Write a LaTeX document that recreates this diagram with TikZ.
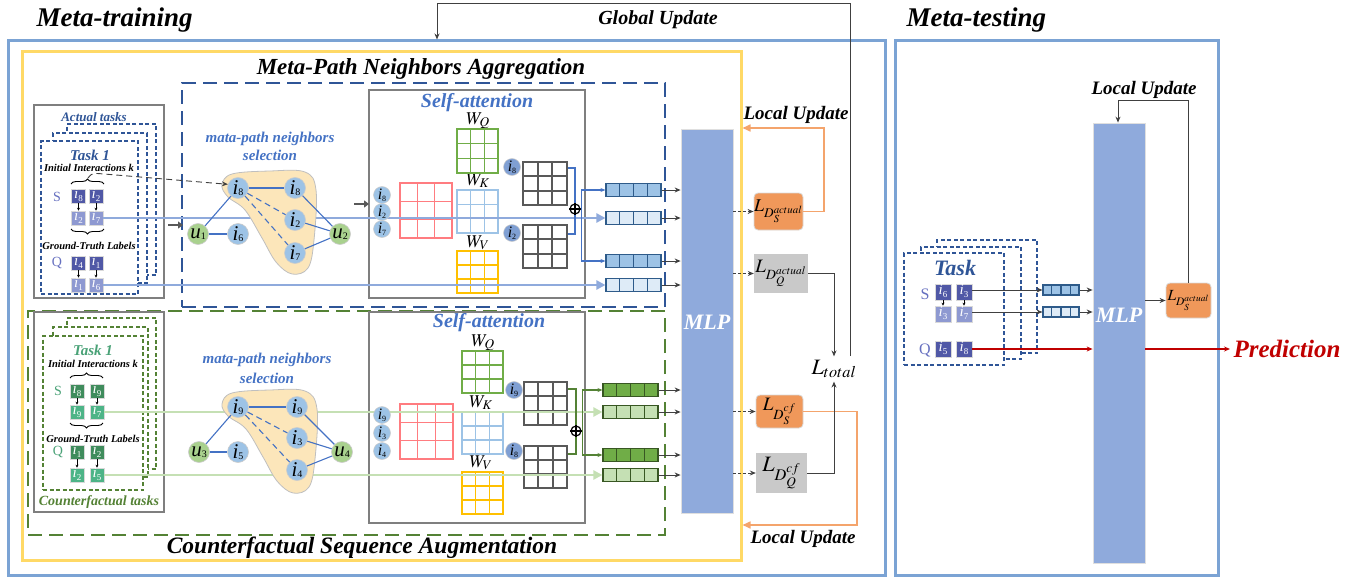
\documentclass[tikz,border=0pt]{standalone}
\usepackage{mathptmx}
\usepackage{fontspec}
\setmainfont{Liberation Serif}
\usetikzlibrary{arrows.meta,decorations.pathreplacing,calc,fit}
\definecolor{obl}{HTML}{7BA3D4}
\definecolor{ybx}{HTML}{FFD966}
\definecolor{dbl}{HTML}{2F5597}
\definecolor{dgr}{HTML}{548235}
\definecolor{gbx}{HTML}{7F7F7F}
\definecolor{nbl}{HTML}{9DC3E6}
\definecolor{ngr}{HTML}{A9D18E}
\definecolor{blobc}{HTML}{FCE6BA}
\definecolor{edg}{HTML}{4472C4}
\definecolor{pdk}{HTML}{5058A6}
\definecolor{plt}{HTML}{8E99D1}
\definecolor{gdk}{HTML}{3F8C5C}
\definecolor{glt}{HTML}{4DB487}
\definecolor{lbl}{HTML}{8FAADC}
\definecolor{lgr}{HTML}{C5E0B4}
\definecolor{vdk}{HTML}{9DC3E6}
\definecolor{vlt}{HTML}{DEEBF7}
\definecolor{vbd}{HTML}{2E5B8A}
\definecolor{gvdk}{HTML}{70AD47}
\definecolor{gvlt}{HTML}{C5E0B4}
\definecolor{gvbd}{HTML}{385723}
\definecolor{mlpc}{HTML}{8FAADC}
\definecolor{orf}{HTML}{F0985A}
\definecolor{orl}{HTML}{F4A46C}
\definecolor{gyf}{HTML}{C9C9C9}
\definecolor{mq}{HTML}{70AD47}
\definecolor{mk}{HTML}{9DC3E6}
\definecolor{mv}{HTML}{FFC000}
\definecolor{mp}{HTML}{FF7C80}
\definecolor{mdk}{HTML}{595959}
\definecolor{red1}{HTML}{C00000}
\definecolor{arr}{HTML}{404040}
\definecolor{sqc}{HTML}{6670C0}
\definecolor{tgr}{HTML}{4AA277}
\definecolor{cdk}{HTML}{7F9FD3}

\newcommand\fsz[1]{\fontsize{#1}{#1}\selectfont}
\newcommand\bigi[2]{{\fsz{21}\textit{#1}}{\fsz{10}\raisebox{-1.5pt}{#2}}}
\newcommand\midi[2]{{\fsz{16}\textit{#1}}{\fsz{8}\raisebox{-1.5pt}{#2}}}
\newcommand\sqi[1]{{\fsz{15}\textit{i}}{\fsz{9}\raisebox{-2.5pt}{#1}}}
\newcommand\mkmat[7]{%
  \node[fit={(#2,#3)(#4,#5)}, inner sep=0pt, draw=#6, line width=#7, fill=white] (#1) {};
  \foreach \mfr in {0.3333,0.6667}{%
    \draw[#6, line width=#7] ({#2+(#4-#2)*\mfr},#3) -- ({#2+(#4-#2)*\mfr},#5);
    \draw[#6, line width=#7] (#2,{#3+(#5-#3)*\mfr}) -- (#4,{#3+(#5-#3)*\mfr});
  }}
\newcommand\mkvec[7]{%
  \node[minimum width=#4, minimum height=#5, inner sep=0pt, fill=#6, draw=#7, line width=1.1pt] (#1) at (#2,#3) {};
  \foreach \mk in {1,2,3}{\draw[#7, line width=1.1pt] ($(#1.north west)!\mk/4!(#1.north east)$) -- ($(#1.south west)!\mk/4!(#1.south east)$);}}

\tikzset{
  bnode/.style={circle, fill=nbl, draw=gray!40, line width=0.6pt, minimum size=21pt, inner sep=0pt},
  gnode/.style={bnode, fill=ngr},
  snode/.style={circle, fill=nbl, draw=gray!40, line width=0.5pt, minimum size=17pt, inner sep=0pt},
  dnode/.style={snode, fill=cdk},
  gedge/.style={draw=edg, line width=1.1pt},
  gdash/.style={gedge, dash pattern=on 6pt off 4pt},
  sqd/.style={rectangle, minimum size=14pt, inner sep=0pt, fill=pdk, draw=gray!30, text=white, line width=0.6pt, text height=7pt, text depth=2pt},
  sql/.style={sqd, fill=plt},
  sqgd/.style={sqd, fill=gdk},
  sqgl/.style={sqd, fill=glt},
  stackb/.style={inner sep=0pt, draw=dbl, fill=white, line width=1.1pt, dash pattern=on 4pt off 2.5pt},
  stackg/.style={stackb, draw=dgr},
  graybox/.style={inner sep=0pt, draw=gbx, line width=1.8pt},
  bline/.style={draw=lbl, line width=2.5pt, -{Triangle[length=9pt,width=9pt]}},
  gline/.style={draw=lgr, line width=2.5pt, -{Triangle[length=9pt,width=9pt]}},
  conn/.style={draw=edg, line width=1.1pt},
  connarr/.style={conn, -{Stealth[length=5pt,width=4pt]}},
  gconn/.style={draw=dgr, line width=1.1pt},
  gconnarr/.style={gconn, -{Stealth[length=5pt,width=4pt]}},
  garr/.style={draw=arr, line width=1pt, -{Stealth[length=6pt,width=5pt]}},
  darr/.style={draw=mdk, line width=2.5pt, -{Triangle[length=5pt,width=7pt]}},
  smarr/.style={draw=black, line width=0.8pt, -{Stealth[length=3pt,width=3pt]}},
  oline/.style={draw=orl, line width=1.6pt, -{Triangle[length=8pt,width=7pt]}},
  rarr/.style={draw=red1, line width=1.1pt, -{Stealth[length=6pt,width=5pt]}},
  lossbox/.style={inner sep=0pt, rounded corners=4pt, draw=gray!30, line width=0.8pt, fill=orf},
  lossg/.style={inner sep=0pt, draw=none, fill=gyf},
  brc/.style={decorate, decoration={brace, amplitude=5pt}, line width=0.9pt},
}

\begin{document}
\begin{tikzpicture}[x=1pt,y=-1pt]
\useasboundingbox (0,0) rectangle (1360,578);

% ---------- titles and outer boxes
\node[font=\fsz{27}\bfseries\itshape, anchor=west] (ttrain) at (33,20) {Meta-training};
\node[font=\fsz{27}\bfseries\itshape, anchor=west] (ttest) at (903,20) {Meta-testing};
\node[font=\fsz{20}\bfseries\itshape] (gutext) at (658,20) {Global Update};

\node[fit={(8,41)(885,575)}, inner sep=0pt, draw=obl, line width=3pt] (trainbox) {};
\node[fit={(895,41)(1218,575)}, inner sep=0pt, draw=obl, line width=3pt] (testbox) {};
\node[fit={(22,52)(741,560)}, inner sep=0pt, draw=ybx, line width=3pt] (ybox) {};
\node[fit={(182,83)(665,307)}, inner sep=0pt, draw=dbl, line width=2.5pt, dash pattern=on 14pt off 7pt] (aggbox) {};
\node[fit={(28,311)(665,535)}, inner sep=0pt, draw=dgr, line width=2.5pt, dash pattern=on 14pt off 7pt] (cfbox) {};
\node[font=\fsz{23}\bfseries\itshape] (aggt) at (421,69) {Meta-Path Neighbors Aggregation};
\node[font=\fsz{23.5}\bfseries\itshape] (cft) at (362,548) {Counterfactual Sequence Augmentation};

% ---------- actual tasks
\node[fit={(34,105)(164,298)}, graybox] (actbox) {};
\node[font=\fsz{13}\bfseries\itshape, text=dbl] (actt) at (94,117) {Actual tasks};
\node[fit={(67,124)(156,275)}, stackb] (ab3) {};
\node[fit={(53,133)(147,283)}, stackb] (ab2) {};
\node[fit={(41,141)(138,294)}, stackb] (ab1) {};
\node[font=\fsz{15}\bfseries\itshape, text=dbl] (task1) at (90,155) {Task 1};
\node[font=\fsz{10.5}\bfseries\itshape] (ii1) at (89,168) {Initial Interactions k};
\node[text=sqc, font=\fsz{14}] (sl1) at (57,197) {S};
\node[sqd] (s1a) at (78.5,196) {\sqi{8}};
\node[sqd] (s1b) at (96,196) {\sqi{2}};
\node[sql] (s1c) at (78.5,218) {\sqi{2}};
\node[sql] (s1d) at (96,218) {\sqi{7}};
\draw[smarr] (s1a.south) -- (s1c.north);
\draw[smarr] (s1b.south) -- (s1d.north);
\draw[brc] (71,184) -- (104,184);
\draw[brc] (104,229) -- (71,229);
\node[font=\fsz{10.5}\bfseries\itshape] (gt1) at (89,246) {Ground-Truth Labels};
\node[text=sqc, font=\fsz{14}] (ql1) at (57,263) {Q};
\node[sqd] (q1a) at (78.5,263) {\sqi{4}};
\node[sqd] (q1b) at (96,263) {\sqi{1}};
\node[sql] (q1c) at (78.5,285) {\sqi{1}};
\node[sql] (q1d) at (96,285) {\sqi{6}};
\draw[smarr] (q1a.south) -- (q1c.north);
\draw[smarr] (q1b.south) -- (q1d.north);

% ---------- counterfactual tasks
\node[fit={(34,312)(164,512)}, graybox] (cfbox2) {};
\node[fit={(67,318)(156,469)}, stackg] (cb3) {};
\node[fit={(53,327)(148,477)}, stackg] (cb2) {};
\node[fit={(43,336)(143,490)}, stackg] (cb1) {};
\node[font=\fsz{15}\bfseries\itshape, text=tgr] (task1g) at (93,350) {Task 1};
\node[font=\fsz{10.5}\bfseries\itshape] (ii2) at (93,364) {Initial Interactions k};
\node[text=tgr, font=\fsz{14}] (sl2) at (58,391) {S};
\node[sqgd] (g1) at (77,391) {\sqi{8}};
\node[sqgd] (g2) at (97,391) {\sqi{9}};
\node[sqgl] (g3) at (77,412) {\sqi{9}};
\node[sqgl] (g4) at (97,412) {\sqi{7}};
\draw[smarr] (g1.south) -- (g3.north);
\draw[smarr] (g2.south) -- (g4.north);
\draw[brc] (70,378) -- (103,378);
\draw[brc] (103,423) -- (70,423);
\node[font=\fsz{10.5}\bfseries\itshape] (gt2) at (93,439) {Ground-Truth Labels};
\node[text=tgr, font=\fsz{14}] (ql2) at (58,452) {Q};
\node[sqgd] (g5) at (77,452) {\sqi{1}};
\node[sqgd] (g6) at (97,452) {\sqi{2}};
\node[sqgl] (g7) at (77,475) {\sqi{2}};
\node[sqgl] (g8) at (97,475) {\sqi{5}};
\draw[smarr] (g5.south) -- (g7.north);
\draw[smarr] (g6.south) -- (g8.north);
\node[font=\fsz{14}\bfseries\itshape, text=dgr] (cftt) at (99,502) {Counterfactual tasks};

% ---------- self-attention boxes and matrices
\node[fit={(369,90)(585,298)}, graybox] (sa1) {};
\node[font=\fsz{20}\bfseries\itshape, text=edg] (sat1) at (477,103) {Self-attention};
\node[font=\fsz{18}, anchor=base] (wq1) at (478,124) {$W_Q$};
\node[font=\fsz{18}, anchor=base] (wk1) at (478,185) {$W_K$};
\node[font=\fsz{18}, anchor=base] (wv1) at (478,247) {$W_V$};
\mkmat{mq1}{457}{129}{498}{173}{mq}{1.6pt}
\mkmat{mk1}{457}{190}{498}{233}{mk}{1.6pt}
\mkmat{mv1}{457}{251}{498}{293}{mv}{1.6pt}
\mkmat{mp1}{400}{183}{452}{238}{mp}{1.6pt}
\mkmat{dk1}{523}{162}{567}{205}{mdk}{2pt}
\mkmat{dk2}{523}{225}{567}{268}{mdk}{2pt}

\node[fit={(369,312)(585,523)}, graybox] (sa2) {};
\node[font=\fsz{20}\bfseries\itshape, text=edg] (sat2) at (489,323) {Self-attention};
\node[font=\fsz{18}, anchor=base] (wq2) at (483,346) {$W_Q$};
\node[font=\fsz{18}, anchor=base] (wk2) at (481,407) {$W_K$};
\node[font=\fsz{18}, anchor=base] (wv2) at (481,467) {$W_V$};
\mkmat{mq2}{462}{351}{503}{393}{mq}{1.6pt}
\mkmat{mk2}{462}{412}{503}{454}{mk}{1.6pt}
\mkmat{mv2}{462}{472}{503}{514}{mv}{1.6pt}
\mkmat{mp2}{400}{404}{453}{459}{mp}{1.6pt}
\mkmat{dk3}{524}{382}{567}{425}{mdk}{2pt}
\mkmat{dk4}{524}{446}{567}{488}{mdk}{2pt}

% ---------- vectors
\mkvec{v1}{633.5}{190}{55}{13}{vdk}{vbd}
\mkvec{v2}{633.5}{218}{55}{13}{vlt}{vbd}
\mkvec{v3}{633.5}{261}{55}{13}{vdk}{vbd}
\mkvec{v4}{633.5}{285}{55}{13}{vlt}{vbd}
\mkvec{w1}{630.5}{390}{55}{13}{gvdk}{gvbd}
\mkvec{w2}{630.5}{412}{55}{13}{gvlt}{gvbd}
\mkvec{w3}{630.5}{455}{55}{13}{gvdk}{gvbd}
\mkvec{w4}{630.5}{475}{55}{13}{gvlt}{gvbd}

% ---------- long input lines (under the blobs)
\draw[bline] (s1d.east) -- (v2.west);
\draw[bline] (q1d.east) -- (v4.west);
\draw[gline] (g4.east) -- (w2.west);
\draw[gline] (g8.east) -- (w4.west);

% ---------- meta-path neighbor graphs
\node[font=\fontsize{15}{18}\selectfont\bfseries\itshape, text=edg, align=center] (mps1) at (270,146) {mata-path neighbors\\selection};
\node[font=\fontsize{15}{20}\selectfont\bfseries\itshape, text=edg, align=center] (mps2) at (267,368) {mata-path neighbors\\selection};
\draw[fill=blobc, draw=gray!50, line width=0.8pt] plot[smooth cycle, tension=0.6] coordinates {(222,185) (232,174) (270,171) (305,172) (316,190) (314,240) (308,268) (292,274) (276,262) (262,238) (245,210) (228,197)};
\draw[fill=blobc, draw=gray!50, line width=0.8pt] plot[smooth cycle, tension=0.6] coordinates {(222,404) (232,393) (270,390) (305,391) (317,409) (315,459) (309,487) (293,493) (277,481) (263,457) (246,429) (228,416)};

\node[bnode] (a8) at (238,188) {\bigi{i}{8}};
\node[bnode] (b8) at (295,188) {\bigi{i}{8}};
\node[bnode] (b2) at (295,220) {\bigi{i}{2}};
\node[bnode] (b7) at (295,253) {\bigi{i}{7}};
\node[gnode] (u1) at (198,234) {\bigi{u}{1}};
\node[bnode] (a6) at (238,234) {\bigi{i}{6}};
\node[gnode] (u2) at (340,234) {\bigi{u}{2}};
\draw[gedge] (u1) -- (a8);
\draw[gedge] (u1) -- (a6);
\draw[gedge] (a8) -- (b8);
\draw[gdash] (a8) -- (b2);
\draw[gdash] (a8) -- (b7);
\draw[gedge] (b8) -- (u2);
\draw[gedge] (b2) -- (u2);
\draw[gedge] (b7) -- (u2);

\node[bnode] (c9a) at (238,407) {\bigi{i}{9}};
\node[bnode] (c9b) at (297,407) {\bigi{i}{9}};
\node[bnode] (c3) at (297,438) {\bigi{i}{3}};
\node[bnode] (c4) at (297,470) {\bigi{i}{4}};
\node[gnode] (u3) at (199,452) {\bigi{u}{3}};
\node[bnode] (c5) at (238,452) {\bigi{i}{5}};
\node[gnode] (u4) at (342,452) {\bigi{u}{4}};
\draw[gedge] (u3) -- (c9a);
\draw[gedge] (u3) -- (c5);
\draw[gedge] (c9a) -- (c9b);
\draw[gdash] (c9a) -- (c3);
\draw[gdash] (c9a) -- (c4);
\draw[gedge] (c9b) -- (u4);
\draw[gedge] (c3) -- (u4);
\draw[gedge] (c4) -- (u4);

\coordinate (brtip) at (88,178);
\draw[draw=arr, line width=0.9pt, dash pattern=on 6pt off 4pt, -{Stealth[length=6pt,width=5pt]}] (brtip) .. controls (92,173) .. (104,174) -- (a8.160);

\coordinate (da1) at (168,225);
\coordinate (da2) at (183,225);
\draw[darr] (da1) -- (da2);
\coordinate (da3) at (354,204);
\coordinate (da4) at (369,204);
\draw[darr] (da3) -- (da4);

% ---------- self-attention inner nodes
\node[snode] (c8) at (382,195) {\midi{i}{8}};
\node[snode] (c2) at (382,212) {\midi{i}{2}};
\node[snode] (c7) at (382,229) {\midi{i}{7}};
\node[dnode] (d8) at (512,167) {\midi{i}{8}};
\node[dnode] (d2) at (512,233) {\midi{i}{2}};
\node[snode] (e9) at (382,415) {\midi{i}{9}};
\node[snode] (e3) at (382,433) {\midi{i}{3}};
\node[snode] (e4) at (382,451) {\midi{i}{4}};
\node[dnode] (f9) at (514,390) {\midi{i}{9}};
\node[dnode] (f8) at (514,451) {\midi{i}{8}};

\node[circle, draw=black, line width=1.2pt, minimum size=10pt, inner sep=0pt, fill=white] (op1) at (575,209) {};
\draw[line width=1.2pt] (op1.north) -- (op1.south) (op1.west) -- (op1.east);
\draw[conn] (dk1.north east) ++(0,7) -| (op1.north);
\draw[conn] (dk2.north east) ++(0,10) -| (op1.south);
\draw[connarr] (op1.east) -- ++(1,0) |- (v1.west);
\draw[connarr] (op1.east) -- ++(1,0) |- (v3.west);

\node[circle, draw=black, line width=1.2pt, minimum size=10pt, inner sep=0pt, fill=white] (op2) at (576,431) {};
\draw[line width=1.2pt] (op2.north) -- (op2.south) (op2.west) -- (op2.east);
\draw[gconn] (dk3.north east) ++(0,8) -| (op2.north);
\draw[gconn] (dk4.north east) ++(0,9) -| (op2.south);
\draw[gconnarr] (op2.east) -- ++(1,0) |- (w1.west);
\draw[gconnarr] (op2.east) -- ++(1,0) |- (w3.west);

% ---------- MLP (training)
\node[fit={(681,129)(733,513)}, inner sep=0pt, fill=mlpc, draw=gray!25, line width=0.8pt] (mlp1) {};
\node[font=\fsz{22}\bfseries\itshape, text=white] (mlpt1) at (707,322) {MLP};
\foreach \vv in {v1,v2,v3,v4,w1,w2,w3,w4}{\draw[garr] (\vv.east) -- (\vv.east -| mlp1.west);}

% ---------- losses
\node[fit={(754,193)(803,230)}, lossbox] (lsa) {};
\node[font=\fsz{18}] (lsat) at (lsa.center) {$L_{D_S^{actual}}$};
\node[fit={(754,254)(808,293)}, lossg] (lqa) {};
\node[font=\fsz{19}] (lqat) at (lqa.center) {$L_{D_Q^{actual}}$};
\node[fit={(756,395)(803,428)}, lossbox] (lscf) {};
\node[font=\fsz{19}] (lscft) at (lscf.center) {$L_{D_S^{cf}}$};
\node[fit={(756,453)(807,493)}, lossg] (lqcf) {};
\node[font=\fsz{22}] (lqcft) at (lqcf.center) {$L_{D_Q^{cf}}$};
\node[font=\fsz{22}] (ltot) at (834,369) {$L_{total}$};

\draw[garr, dash pattern=on 3pt off 2pt] (lsa.west -| mlp1.east) -- (lsa.west);
\draw[garr, dash pattern=on 3pt off 2pt] (lqa.west -| mlp1.east) -- (lqa.west);
\draw[garr, dash pattern=on 3pt off 2pt] (lscf.west -| mlp1.east) -- (lscf.west);
\draw[garr, dash pattern=on 3pt off 2pt] (lqcf.west -| mlp1.east) -- (lqcf.west);

\coordinate (lu1) at (824,128);
\draw[oline] (lsa.east) -| (lu1) -- (lu1 -| ybox.east);
\node[font=\fsz{19}\bfseries\itshape] (lut1) at (796,115) {Local Update};
\coordinate (lu2) at (857,525);
\draw[oline] (lscf.east) -| (lu2) -- (lu2 -| ybox.east);
\node[font=\fsz{19}\bfseries\itshape] (lut2) at (803,539) {Local Update};

\draw[garr] (lqa.east) -| (ltot.north);
\draw[garr] (lqcf.east) -| (ltot.south);

\coordinate (gs) at (850,356);
\coordinate (gt) at (437,4);
\draw[garr] (gs) |- (gt) -- (trainbox.north -| gt);

% ---------- meta-testing
\node[fit={(1093,123)(1145,563)}, inner sep=0pt, fill=mlpc, draw=gray!25, line width=0.8pt] (mlp2) {};
\node[font=\fsz{22}\bfseries\itshape, text=white] (mlpt2) at (1119,315) {MLP};
\node[fit={(1166,283)(1211,318)}, lossbox] (lst) {};
\node[font=\fsz{15.5}] (lstt) at (lst.center) {$L_{D_S^{actual}}$};
\draw[garr] (lst.west -| mlp2.east) -- (lst.west);
\coordinate (lu3) at (1118,100);
\draw[garr] (lst.north) |- (lu3) -- (mlp2.north -| lu3);
\node[font=\fsz{19}\bfseries\itshape] (lut3) at (1144,90) {Local Update};

\node[fit={(937,240)(1037,353)}, stackb] (tb3) {};
\node[fit={(921,247)(1021,359)}, stackb] (tb2) {};
\node[fit={(904,253)(1004,365)}, stackb] (tb1) {};
\node[font=\fsz{22}\bfseries\itshape, text=dbl] (taskt) at (955,268) {Task};
\node[text=sqc, font=\fsz{16}] (sl3) at (925,294) {S};
\node[text=sqc, font=\fsz{16}] (ql3) at (925,350) {Q};
\node[sqd, minimum size=16pt] (t1) at (943,292) {\sqi{6}};
\node[sqd, minimum size=16pt] (t2) at (964,292) {\sqi{3}};
\node[sql, minimum size=16pt] (t3) at (943,314) {\sqi{3}};
\node[sql, minimum size=16pt] (t4) at (964,314) {\sqi{7}};
\node[sqd, minimum size=16pt] (t5) at (943,349) {\sqi{5}};
\node[sqd, minimum size=16pt] (t6) at (964,349) {\sqi{8}};
\draw[smarr] (t1.south) -- (t3.north);
\draw[smarr] (t2.south) -- (t4.north);

\mkvec{x1}{1061}{290}{36}{10}{vdk}{vbd}
\mkvec{x2}{1061}{312}{36}{10}{vlt}{vbd}
\draw[garr] (t2.east |- x1.west) -- (x1.west);
\draw[garr] (t4.east |- x2.west) -- (x2.west);
\draw[garr] (x1.east) -- (x1.east -| mlp2.west);
\draw[garr] (x2.east) -- (x2.east -| mlp2.west);

\node[font=\fsz{25}\bfseries\itshape, text=red1, anchor=west] (pred) at (1230,349) {Prediction};
\draw[rarr] (t6.east) -- (t6.east -| mlp2.west);
\draw[rarr] (pred.west -| mlp2.east) -- (pred.west);
\end{tikzpicture}
\end{document}
